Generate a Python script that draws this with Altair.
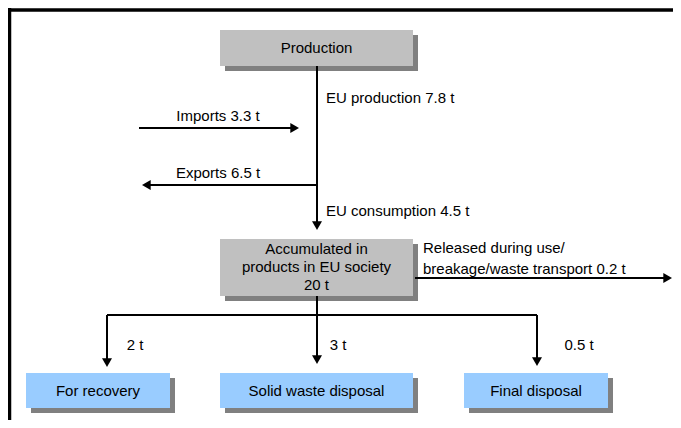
import altair as alt
import pandas as pd

# ---------------- values (tonnes of mercury) ----------------
flow_names = ["EU production", "Imports", "Exports", "EU consumption",
              "Released during use/\nbreakage/waste transport"]
flow_values = [7.8, 3.3, 6.5, 4.5, 0.2]
stock_label = ["Accumulated in", "products in EU society"]
stock_value = 20
end_names = ["For recovery", "Solid waste disposal", "Final disposal"]
end_values = [2, 3, 0.5]
source_name = "Production"

def t(v):
    return f"{v:g} t"

# ---------------- layout (pixel positions of the diagram) ----------------
W, H = 665, 412
X0, Y0 = 8, 8

box_text = [source_name, "", end_names[0], end_names[1], end_names[2]]
box_x0 = [220, 220, 26, 220, 464]
box_x1 = [413, 413, 170, 413, 608]
box_y0 = [30, 239, 373, 373, 373]
box_y1 = [66, 296, 408, 408, 408]
box_fill = ["#C0C0C0", "#C0C0C0", "#99CCFF", "#99CCFF", "#99CCFF"]
SHADOW = 5

boxes = pd.DataFrame({"x": box_x0, "x2": box_x1, "y": box_y0, "y2": box_y1,
                      "fill": box_fill, "text": box_text})
boxes["cx"] = (boxes["x"] + boxes["x2"]) / 2
boxes["cy"] = (boxes["y"] + boxes["y2"]) / 2
shadows = boxes.copy()
for c in ["x", "x2", "y", "y2"]:
    shadows[c] = shadows[c] + SHADOW

# connector segments
segs = pd.DataFrame({
    "x":  [317, 139, 317, 415, 317, 107, 107, 537],
    "y":  [66, 128, 185, 278, 296, 315, 315, 315],
    "x2": [317, 295, 146, 668, 317, 537, 107, 537],
    "y2": [226, 128, 185, 278, 360, 315, 363, 362],
})

# arrow heads: tip position + direction
tips_x = [317, 299, 142, 672, 317, 107, 537]
tips_y = [230, 128, 185, 278, 364, 367, 366]
tips_dir = ["down", "right", "left", "right", "down", "down", "down"]
HEAD = 100
h = 0.866 * (HEAD ** 0.5) / 2
dxy = {"down": (0, -h), "right": (-h, 0), "left": (h, 0)}
heads = pd.DataFrame({
    "x": [tx + dxy[d][0] for tx, d in zip(tips_x, tips_dir)],
    "y": [ty + dxy[d][1] for ty, d in zip(tips_y, tips_dir)],
    "shape": ["triangle-" + d for d in tips_dir],
})

# text labels
rel_lines = flow_names[4].split("\n")
labels = pd.DataFrame({
    "text": [f"{flow_names[0]} {t(flow_values[0])}",
             f"{flow_names[1]} {t(flow_values[1])}",
             f"{flow_names[2]} {t(flow_values[2])}",
             f"{flow_names[3]} {t(flow_values[3])}",
             rel_lines[0],
             f"{rel_lines[1]} {t(flow_values[4])}",
             t(end_values[0]), t(end_values[1]), t(end_values[2]),
             stock_label[0], stock_label[1], t(stock_value)],
    "x": [326, 218, 218, 326, 423, 423, 135, 338, 579, 316.5, 316.5, 316.5],
    "y": [98, 116, 173, 211, 248, 269, 345, 345, 345, 249, 267, 285],
    "align": ["left", "center", "center", "left", "left", "left",
              "center", "center", "center", "center", "center", "center"],
})

frame = pd.DataFrame({"x": [8, 9.5], "x2": [673, 9.5], "y": [10, 8], "y2": [10, 420]})

xs = alt.Scale(domain=[X0, X0 + W], range=[0, W])
ys = alt.Scale(domain=[Y0, Y0 + H], range=[0, H])


def X(f="x"):
    return alt.X(f"{f}:Q", scale=xs, axis=None)


def Y(f="y"):
    return alt.Y(f"{f}:Q", scale=ys, axis=None)


shadow_l = alt.Chart(shadows).mark_rect(color="#808080").encode(
    x=X(), x2="x2:Q", y=Y(), y2="y2:Q")
box_l = alt.Chart(boxes).mark_rect().encode(
    x=X(), x2="x2:Q", y=Y(), y2="y2:Q",
    fill=alt.Fill("fill:N", scale=None))
box_t = alt.Chart(boxes).mark_text(
    font="Liberation Sans", fontSize=15, color="black", baseline="middle"
).encode(x=X("cx"), y=Y("cy"), text="text:N")
seg_l = alt.Chart(segs).mark_rule(color="black", strokeWidth=2).encode(
    x=X(), x2="x2:Q", y=Y(), y2="y2:Q")
head_l = alt.Chart(heads).mark_point(
    filled=True, color="black", opacity=1, size=HEAD, strokeWidth=0
).encode(x=X(), y=Y(), shape=alt.Shape("shape:N", scale=None))
lab_left = alt.Chart(labels).transform_filter(alt.datum.align == "left").mark_text(
    font="Liberation Sans", fontSize=15, color="black", baseline="middle", align="left"
).encode(x=X(), y=Y(), text="text:N")
lab_center = alt.Chart(labels).transform_filter(alt.datum.align == "center").mark_text(
    font="Liberation Sans", fontSize=15, color="black", baseline="middle", align="center"
).encode(x=X(), y=Y(), text="text:N")
frame_l = alt.Chart(frame).mark_rule(color="black", strokeWidth=3.5).encode(
    x=X(), x2="x2:Q", y=Y(), y2="y2:Q")

chart = alt.layer(shadow_l, box_l, box_t, seg_l, head_l, lab_left, lab_center, frame_l).properties(
    width=W, height=H, padding=0, autosize=alt.AutoSizeParams(type="none")
).configure_view(stroke=None)

chart.save("out.html", embed_options={"renderer": "svg", "actions": False})
